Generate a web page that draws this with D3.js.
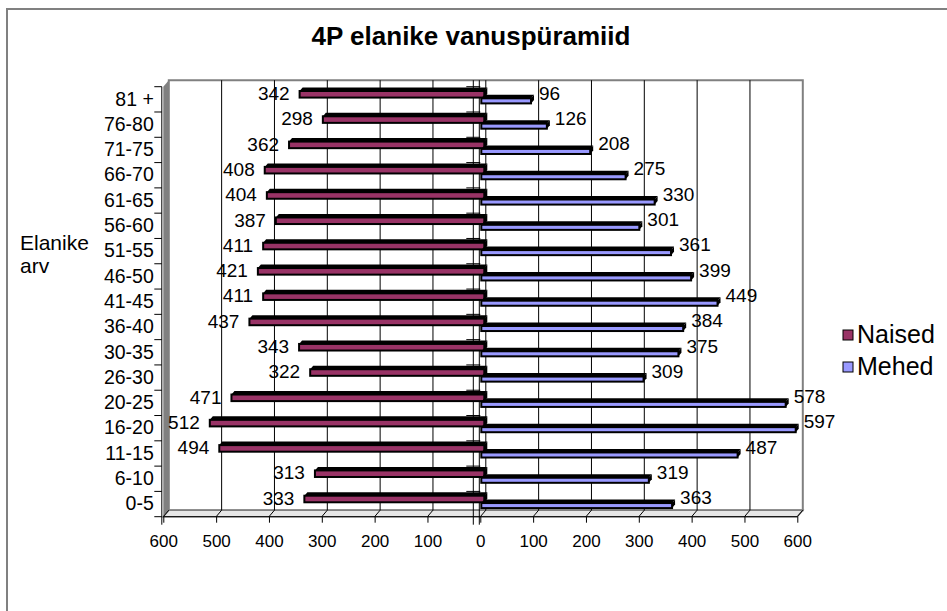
<!DOCTYPE html>
<html>
<head>
<meta charset="utf-8">
<script src="https://cdn.jsdelivr.net/npm/d3@7"></script>
<style>
  body { margin: 0; background: #fff; }
  text { font-family: Arial, "Liberation Sans", sans-serif; fill: #000; }
</style>
</head>
<body>
<script>
var width = 947;
var height = 611;

var categories = ["81 +", "76-80", "71-75", "66-70", "61-65", "56-60", "51-55", "46-50", "41-45",
                  "36-40", "30-35", "26-30", "20-25", "16-20", "11-15", "6-10", "0-5"];
var naised = [342, 298, 362, 408, 404, 387, 411, 421, 411, 437, 343, 322, 471, 512, 494, 313, 333];
var mehed = [96, 126, 208, 275, 330, 301, 361, 399, 449, 384, 375, 309, 578, 597, 487, 319, 363];
var tick_values = [-600, -500, -400, -300, -200, -100, 0, 100, 200, 300, 400, 500, 600];
var series_names = ["Naised", "Mehed"];
var series_colors = ["#993366", "#9999ff"];

var depth_x = 5.5;
var depth_y = -6.5;
var bar_dx = 3;
var bar_dy = -3.5;

var svg = d3.select("body")
    .append("svg")
    .attr("width", width)
    .attr("height", height);

var x = d3.scaleLinear().domain([-600, 600]).range([163.3, 797.3]);
var y = d3.scaleBand().domain(categories).range([86.7, 516.7]);
var bw = y.bandwidth();
var x0 = x(0);
var top_y = y.range()[0];
var bot_y = y.range()[1];

// outer chart border
svg.append("rect")
    .attr("x", 7).attr("y", 9)
    .attr("width", 960).attr("height", 620)
    .attr("fill", "#fff")
    .attr("stroke", "#808080")
    .attr("stroke-width", 2);

svg.append("text")
    .attr("x", 471).attr("y", 45)
    .attr("text-anchor", "middle")
    .attr("font-size", "26px")
    .attr("font-weight", "bold")
    .text("4P elanike vanuspüramiid");

// side wall
var xl = x.range()[0], xr = x.range()[1];
svg.append("polygon")
    .attr("points", [[xl, top_y], [xl + depth_x, top_y + depth_y], [xl + depth_x, bot_y + depth_y], [xl, bot_y]].join(" "))
    .attr("fill", "#808080");

// back wall
svg.append("polygon")
    .attr("points", [[xl + depth_x, top_y + depth_y], [xr + depth_x, top_y + depth_y], [xr + depth_x, bot_y + depth_y], [xl + depth_x, bot_y + depth_y]].join(" "))
    .attr("fill", "#fff")
    .attr("stroke", "#808080")
    .attr("stroke-width", 2);

// floor
svg.append("polygon")
    .attr("points", [[xl, bot_y], [xl + depth_x, bot_y + depth_y], [xr + depth_x, bot_y + depth_y], [xr, bot_y]].join(" "))
    .attr("fill", "#e6e6e6")
    .attr("stroke", "#808080")
    .attr("stroke-width", 1.5);

// gridlines on back wall
svg.selectAll(".grid")
    .data(tick_values.slice(1, -1))
    .enter()
    .append("line")
    .attr("class", "grid")
    .attr("x1", function(d) { return x(d) + depth_x; })
    .attr("x2", function(d) { return x(d) + depth_x; })
    .attr("y1", top_y + depth_y)
    .attr("y2", bot_y + depth_y)
    .attr("stroke", "#000")
    .attr("stroke-width", 1);

// floor diagonals
svg.selectAll(".diag")
    .data(tick_values)
    .enter()
    .append("line")
    .attr("class", "diag")
    .attr("x1", function(d) { return x(d); })
    .attr("x2", function(d) { return x(d) + depth_x; })
    .attr("y1", bot_y)
    .attr("y2", bot_y + depth_y)
    .attr("stroke", "#000")
    .attr("stroke-width", 1);

// axis lines near zero
[x0 - 7, x0 - 1].forEach(function(lx) {
    svg.append("line")
        .attr("x1", lx).attr("x2", lx)
        .attr("y1", top_y + depth_y).attr("y2", bot_y + 8)
        .attr("stroke", "#000")
        .attr("stroke-width", 1);
});
svg.selectAll(".ztick")
    .data(categories)
    .enter()
    .append("line")
    .attr("class", "ztick")
    .attr("x1", x0 - 14).attr("x2", x0)
    .attr("y1", function(d) { return y(d); })
    .attr("y2", function(d) { return y(d); })
    .attr("stroke", "#000");

// bars
var rows = categories.map(function(c, i) {
    return { cat: c, naised: naised[i], mehed: mehed[i] };
});

var groups = svg.selectAll(".cat")
    .data(rows)
    .enter()
    .append("g")
    .attr("class", "cat");

function box(g, x1, x2, y1, h, color) {
    // top face
    g.append("polygon")
        .attr("points", [[x1, y1], [x1 + bar_dx, y1 + bar_dy], [x2 + bar_dx, y1 + bar_dy], [x2, y1]].join(" "))
        .attr("fill", "#000");
    // side face
    g.append("polygon")
        .attr("points", [[x2, y1], [x2 + bar_dx, y1 + bar_dy], [x2 + bar_dx, y1 + h + bar_dy], [x2, y1 + h]].join(" "))
        .attr("fill", "#000");
    g.append("rect")
        .attr("x", x1).attr("y", y1)
        .attr("width", x2 - x1).attr("height", h)
        .attr("fill", color)
        .attr("stroke", "#000")
        .attr("stroke-width", 2);
}

groups.each(function(d) {
    var g = d3.select(this);
    var yb = y(d.cat);
    box(g, x(-d.naised), x0 + 4, yb + 0.17 * bw, 0.26 * bw, series_colors[0]);
    box(g, x0 + 1, x(d.mehed), yb + 0.46 * bw, 0.2 * bw, series_colors[1]);
});

// value labels
svg.selectAll(".lab_n")
    .data(rows)
    .enter()
    .append("text")
    .attr("class", "lab_n")
    .attr("x", function(d) { return x(-d.naised) - 10; })
    .attr("y", function(d) { return y(d.cat) + 0.29 * bw + 6; })
    .attr("text-anchor", "end")
    .attr("font-size", "19px")
    .text(function(d) { return d.naised; });

svg.selectAll(".lab_m")
    .data(rows)
    .enter()
    .append("text")
    .attr("class", "lab_m")
    .attr("x", function(d) { return x(d.mehed) + 8; })
    .attr("y", function(d) { return y(d.cat) + 0.55 * bw - 1; })
    .attr("text-anchor", "start")
    .attr("font-size", "19px")
    .text(function(d) { return d.mehed; });

// category axis
var yAxis = d3.axisLeft(y).tickSize(0).tickPadding(8);
var ya = svg.append("g")
    .attr("transform", "translate(" + (xl - 1.5) + ",0)")
    .call(yAxis);
ya.select(".domain").remove();
ya.selectAll("text").attr("font-size", "19.5px").attr("font-family", null);
svg.append("line")
    .attr("x1", xl - 1.5).attr("x2", xl - 1.5)
    .attr("y1", top_y).attr("y2", bot_y + 8)
    .attr("stroke", "#000");
svg.selectAll(".ctick")
    .data(categories.concat(["end"]))
    .enter()
    .append("line")
    .attr("class", "ctick")
    .attr("x1", xl - 9).attr("x2", xl - 1.5)
    .attr("y1", function(d) { return d === "end" ? bot_y : y(d); })
    .attr("y2", function(d) { return d === "end" ? bot_y : y(d); })
    .attr("stroke", "#000");

// value axis
var xAxis = d3.axisBottom(x)
    .tickValues(tick_values)
    .tickFormat(function(d) { return Math.abs(d); })
    .tickSize(6)
    .tickPadding(12);
var xa = svg.append("g")
    .attr("transform", "translate(0," + bot_y + ")")
    .call(xAxis);
xa.select(".domain").attr("d", "M" + xl + ",0H" + xr).attr("stroke", "#000");
xa.selectAll("text").attr("font-size", "17px").attr("font-family", null);

// axis title
var at = svg.append("text")
    .attr("x", 20).attr("y", 250)
    .attr("font-size", "21px");
at.append("tspan").attr("x", 20).attr("dy", 0).text("Elanike");
at.append("tspan").attr("x", 20).attr("dy", 23).text("arv");

// legend
var legend = svg.selectAll(".legend")
    .data(series_names)
    .enter()
    .append("g")
    .attr("class", "legend")
    .attr("transform", function(d, i) { return "translate(843," + (330 + i * 32) + ")"; });
legend.append("rect")
    .attr("width", 10).attr("height", 10)
    .attr("fill", function(d, i) { return series_colors[i]; })
    .attr("stroke", "#000");
legend.append("text")
    .attr("x", 14).attr("y", 12.5)
    .attr("font-size", "25px")
    .text(function(d) { return d; });
</script>
</body>
</html>
